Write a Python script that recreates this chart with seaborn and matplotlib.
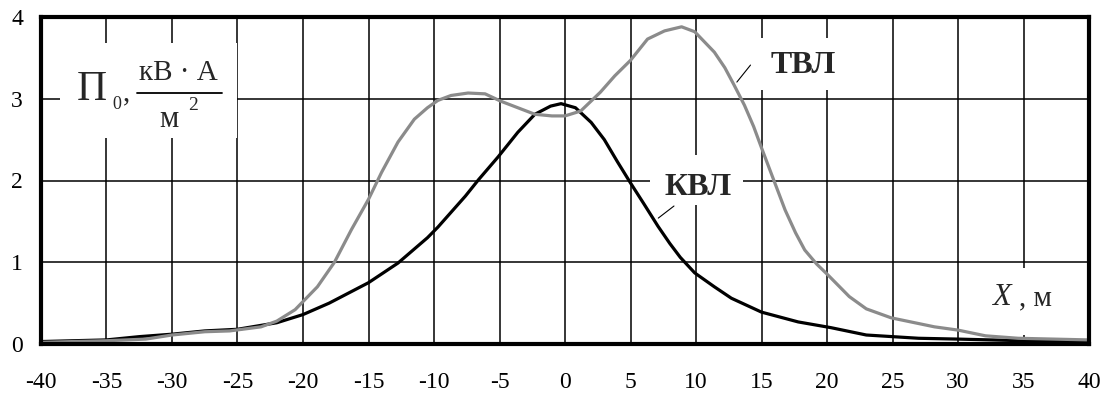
import numpy as np
import pandas as pd
import matplotlib
matplotlib.use("Agg")
import matplotlib.pyplot as plt
import seaborn as sns
from matplotlib.patches import Rectangle
from matplotlib.lines import Line2D

# ---- data ----
x_kvl = [-40, -35, -32.5, -30, -27.5, -25, -22, -20, -18, -15, -12.75, -10.5, -9.7,
         -7.6, -6.6, -5.1, -3.6, -2.3, -1.1, -0.3, 0.8, 2.0, 3.0, 4.0, 5.0, 6.0,
         7.1, 8.0, 8.8, 9.9, 11.4, 12.7, 15, 17.8, 20.3, 23, 27, 30, 35, 40]
y_kvl = [0.03, 0.05, 0.09, 0.12, 0.16, 0.18, 0.26, 0.36, 0.50, 0.75, 0.99, 1.30, 1.43,
         1.81, 2.01, 2.29, 2.59, 2.81, 2.91, 2.94, 2.89, 2.71, 2.50, 2.23, 1.97, 1.72,
         1.44, 1.23, 1.06, 0.87, 0.70, 0.56, 0.39, 0.27, 0.20, 0.11, 0.07, 0.06, 0.04, 0.03]

x_tvl = [-40, -35, -32, -30, -27.5, -25.6, -23.2, -22, -20.6, -18.9, -17.6, -16.3, -15,
         -14, -12.75, -11.5, -10.5, -9.7, -8.7, -7.4, -6.1, -4.9, -3.6, -2.3, -1.0, 0,
         1.2, 2.7, 3.8, 5.0, 6.3, 7.6, 8.9, 9.9, 11.4, 12.2, 12.9, 13.7, 14.4, 15.0,
         15.9, 16.8, 17.6, 18.3, 19.2, 20.1, 21.7, 23.0, 24.9, 28.2, 30, 32.1, 34.6, 40]
y_tvl = [0.02, 0.04, 0.06, 0.11, 0.15, 0.16, 0.21, 0.28, 0.42, 0.70, 1.00, 1.40, 1.77,
         2.10, 2.47, 2.75, 2.89, 2.98, 3.04, 3.07, 3.06, 2.97, 2.89, 2.81, 2.79, 2.79,
         2.85, 3.08, 3.28, 3.47, 3.73, 3.83, 3.88, 3.82, 3.57, 3.38, 3.17, 2.92, 2.66,
         2.40, 2.02, 1.64, 1.36, 1.15, 0.98, 0.84, 0.58, 0.43, 0.32, 0.21, 0.17, 0.10,
         0.07, 0.05]

series_names = ["КВЛ", "ТВЛ"]
x_ticks = list(range(-40, 41, 5))
y_ticks = [0, 1, 2, 3, 4]

df = pd.concat([
    pd.DataFrame({"x": x_kvl, "y": y_kvl, "line": series_names[0]}),
    pd.DataFrame({"x": x_tvl, "y": y_tvl, "line": series_names[1]}),
], ignore_index=True)

sns.set_theme(style="white")
plt.rcParams["font.family"] = ["Liberation Serif", "DejaVu Serif"]

fig = plt.figure(figsize=(11.08, 3.97), dpi=100)
ax = fig.add_axes([41 / 1108, 53 / 397, 1048 / 1108, 327 / 397])

sns.lineplot(data=df, x="x", y="y", hue="line", estimator=None, sort=False,
             palette={"КВЛ": "black", "ТВЛ": "#8b8b8b"}, linewidth=2.3,
             legend=False, ax=ax, zorder=4)

ax.set_xlim(-40, 40)
ax.set_ylim(0, 4)
ax.set_xticks(x_ticks)
ax.set_yticks(y_ticks)
ax.set_xticklabels([str(t) for t in x_ticks])
ax.set_yticklabels([str(t) for t in y_ticks])
ax.set_xlabel("")
ax.set_ylabel("")
ax.grid(True, color="black", linewidth=1.1)
ax.set_axisbelow(True)
ax.tick_params(axis="x", length=0, pad=20, labelsize=17, colors="black")
ax.tick_params(axis="y", length=0, pad=13, labelsize=17, colors="black")
for s in ax.spines.values():
    s.set_visible(True)
    s.set_color("black")
    s.set_linewidth(3)
    s.set_zorder(6)

# white boxes under the labels (interrupt grid)
for (x0, y0, w, h) in [(0.018, 0.630, 0.169, 0.290),
                       (0.681, 0.777, 0.079, 0.159),
                       (0.581, 0.425, 0.089, 0.153),
                       (0.901, 0.028, 0.076, 0.204)]:
    ax.add_patch(Rectangle((x0, y0), w, h, transform=ax.transAxes,
                           facecolor="white", edgecolor="none", zorder=2))

T = ax.transAxes
# y-axis label: П0, кВ·А / м²
ax.text(0.034, 0.746, "П", transform=T, fontsize=30, va="baseline", ha="left", zorder=5)
ax.text(0.068, 0.719, "0", transform=T, fontsize=13, va="baseline", ha="left", zorder=5)
ax.text(0.078, 0.746, ",", transform=T, fontsize=21, va="baseline", ha="left", zorder=5)
ax.text(0.131, 0.807, "кВ · А", transform=T, fontsize=21, va="baseline", ha="center", zorder=5)
ax.add_line(Line2D([0.092, 0.173], [0.769, 0.769], transform=T, color="black",
                   linewidth=1.3, zorder=5))
ax.text(0.122, 0.664, "м", transform=T, fontsize=22, va="baseline", ha="center", zorder=5)
ax.text(0.140, 0.716, "2", transform=T, fontsize=14, va="baseline", ha="left", zorder=5)

# series labels
ax.text(0.696, 0.829, "ТВЛ", transform=T, fontsize=23, fontweight="bold",
        va="baseline", ha="left", zorder=5)
ax.text(0.595, 0.456, "КВЛ", transform=T, fontsize=23, fontweight="bold",
        va="baseline", ha="left", zorder=5)
ax.add_line(Line2D([0.664, 0.677], [0.801, 0.853], transform=T, color="black",
                   linewidth=0.8, zorder=5))
ax.add_line(Line2D([0.589, 0.604], [0.385, 0.422], transform=T, color="black",
                   linewidth=0.8, zorder=5))

# x-axis label
ax.text(0.907, 0.119, "X", transform=T, fontsize=22, fontstyle="italic",
        va="baseline", ha="left", zorder=5)
ax.text(0.933, 0.119, ", м", transform=T, fontsize=21,
        va="baseline", ha="left", zorder=5)

fig.savefig("out.png", dpi=100)
